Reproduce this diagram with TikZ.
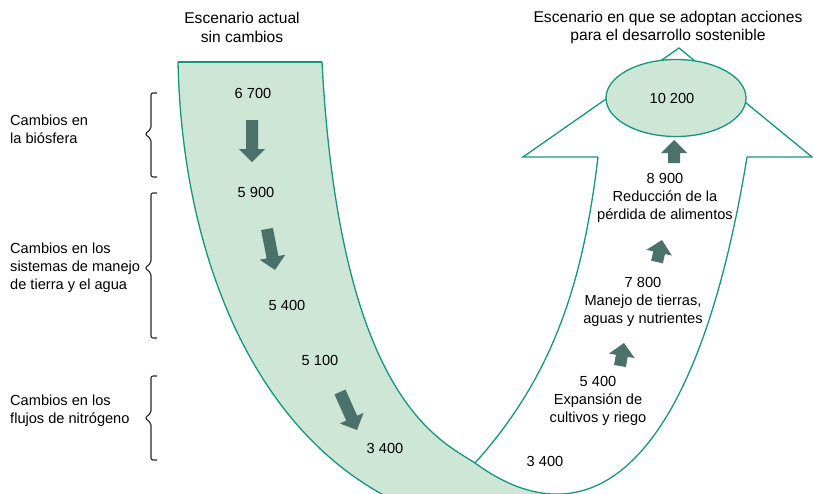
\documentclass[tikz,border=0pt]{standalone}
\usepackage{fontspec}
\setmainfont{Liberation Sans}
\usetikzlibrary{calc,shapes.geometric}
\definecolor{bandfill}{RGB}{205,230,214}
\definecolor{bandline}{RGB}{22,150,126}
\definecolor{arrowfill}{RGB}{74,113,106}
\definecolor{bracecol}{RGB}{40,40,40}
\newcommand{\blockarr}[2]{%
  \coordinate (ah) at ($(#2)!13pt!(#1)$);
  \fill[arrowfill] ($(#1)!6pt!90:(#2)$) -- ($(ah)!6pt!90:(#2)$) -- ($(ah)!13pt!90:(#2)$) -- (#2) -- ($(ah)!13pt!-90:(#2)$) -- ($(ah)!6pt!-90:(#2)$) -- ($(#1)!6pt!-90:(#2)$) -- cycle;}
\tikzset{
  lbl/.style={font=\fontsize{14.6}{18}\selectfont, inner sep=0pt, align=center},
  ttl/.style={font=\fontsize{15.6}{18.5}\selectfont, inner sep=0pt, align=center},
  lbll/.style={font=\fontsize{14.6}{18}\selectfont, inner sep=0pt, align=left, anchor=west},
  bandedge/.style={draw=bandline, line width=1.3pt},
  bracestyle/.style={draw=bracecol, line width=1.1pt, rounded corners=2pt}
}
\begin{document}
\begin{tikzpicture}[x=1pt,y=-1pt]
\useasboundingbox (0,0) rectangle (813,493);
\begin{scope}
\clip (0,0) rectangle (813,493);
% green band
\fill[bandfill] (178,62) -- (322,62) .. controls (340,400) and (440,440) .. (475,463)
  .. controls (501.25,482.25) and (528,493.4) .. (554.2,494.1) -- (554,530) -- (440,530)
  -- (380,493) .. controls (250,420) and (182,250) .. (178,62) -- cycle;
% edges
\draw[bandedge] (178,62) .. controls (182,250) and (250,420) .. (380,493) -- ++(60,34);
\draw[bandedge] (178,62) -- (322,62);
\draw[bandedge] (322,62) .. controls (340,400) and (440,440) .. (475,463)
  .. controls (501.25,482.25) and (528,493.4) .. (554.2,494.1)
  .. controls (632.8,496.2) and (706.5,404.5) .. (747,157);
\draw[bandedge] (475,463) .. controls (556,373) and (583.6,277) .. (598,157);
\draw[bandedge, line join=miter] (598,157) -- (523,157) -- (679,48) -- (812,157) -- (747,157);
\end{scope}
% ellipse
\node[draw=bandline, fill=bandfill, line width=1.3pt, ellipse, minimum width=140pt, minimum height=77pt, inner sep=0pt] (goal) at (676,98) {};
\node[lbl] (v10200) at (672,98) {10 200};
% titles
\node[ttl] (t1) at (242,27.5) {Escenario actual\\sin cambios};
\node[ttl] (t2) at (668,27.5) {Escenario en que se adoptan acciones\\para el desarrollo sostenible};
% left labels
\node[lbll] (l1) at (10,129) {Cambios en\\la biósfera};
\node[lbll] (l2) at (10,268) {Cambios en los\\sistemas de manejo\\de tierra y el agua};
\node[lbll] (l3) at (10,411) {Cambios en los\\flujos de nitrógeno};
% braces
\draw[bracestyle] (157,93) -- (151,93) -- (151,129) -- (145,134) -- (151,139) -- (151,177) -- (157,177);
\draw[bracestyle] (157,193) -- (151,193) -- (151,263) -- (145,268) -- (151,273) -- (151,338) -- (157,338);
\draw[bracestyle] (157,376) -- (151,376) -- (151,413) -- (145,418) -- (151,423) -- (151,460) -- (157,460);
% numbers left
\node[lbl] (n1) at (253,93) {6 700};
\node[lbl] (n2) at (256,192) {5 900};
\node[lbl] (n3) at (287,305) {5 400};
\node[lbl] (n4) at (320,360) {5 100};
\node[lbl] (n5) at (385,448) {3 400};
% numbers right
\node[lbl] (m1) at (545,461) {3 400};
\node[lbl] (m2) at (598,401) {5 400\\Expansión de\\cultivos y riego};
\node[lbl] (m3) at (643,302) {7 800\\Manejo de tierras,\\aguas y nutrientes};
\node[lbl] (m4) at (665,198) {8 900\\Reducción de la\\pérdida de alimentos};
% arrows
\coordinate (a1s) at (252,120); \coordinate (a1e) at (252,162);
\coordinate (a2s) at (267,229); \coordinate (a2e) at (275,270);
\coordinate (a3s) at (340,392); \coordinate (a3e) at (357,430);
\coordinate (u1s) at (674,163); \coordinate (u1e) at (674,140);
\coordinate (u2s) at (657,262); \coordinate (u2e) at (662,240);
\coordinate (u3s) at (620,366); \coordinate (u3e) at (624,343);
\blockarr{a1s}{a1e}
\blockarr{a2s}{a2e}
\blockarr{a3s}{a3e}
\blockarr{u1s}{u1e}
\blockarr{u2s}{u2e}
\blockarr{u3s}{u3e}
\end{tikzpicture}
\end{document}
